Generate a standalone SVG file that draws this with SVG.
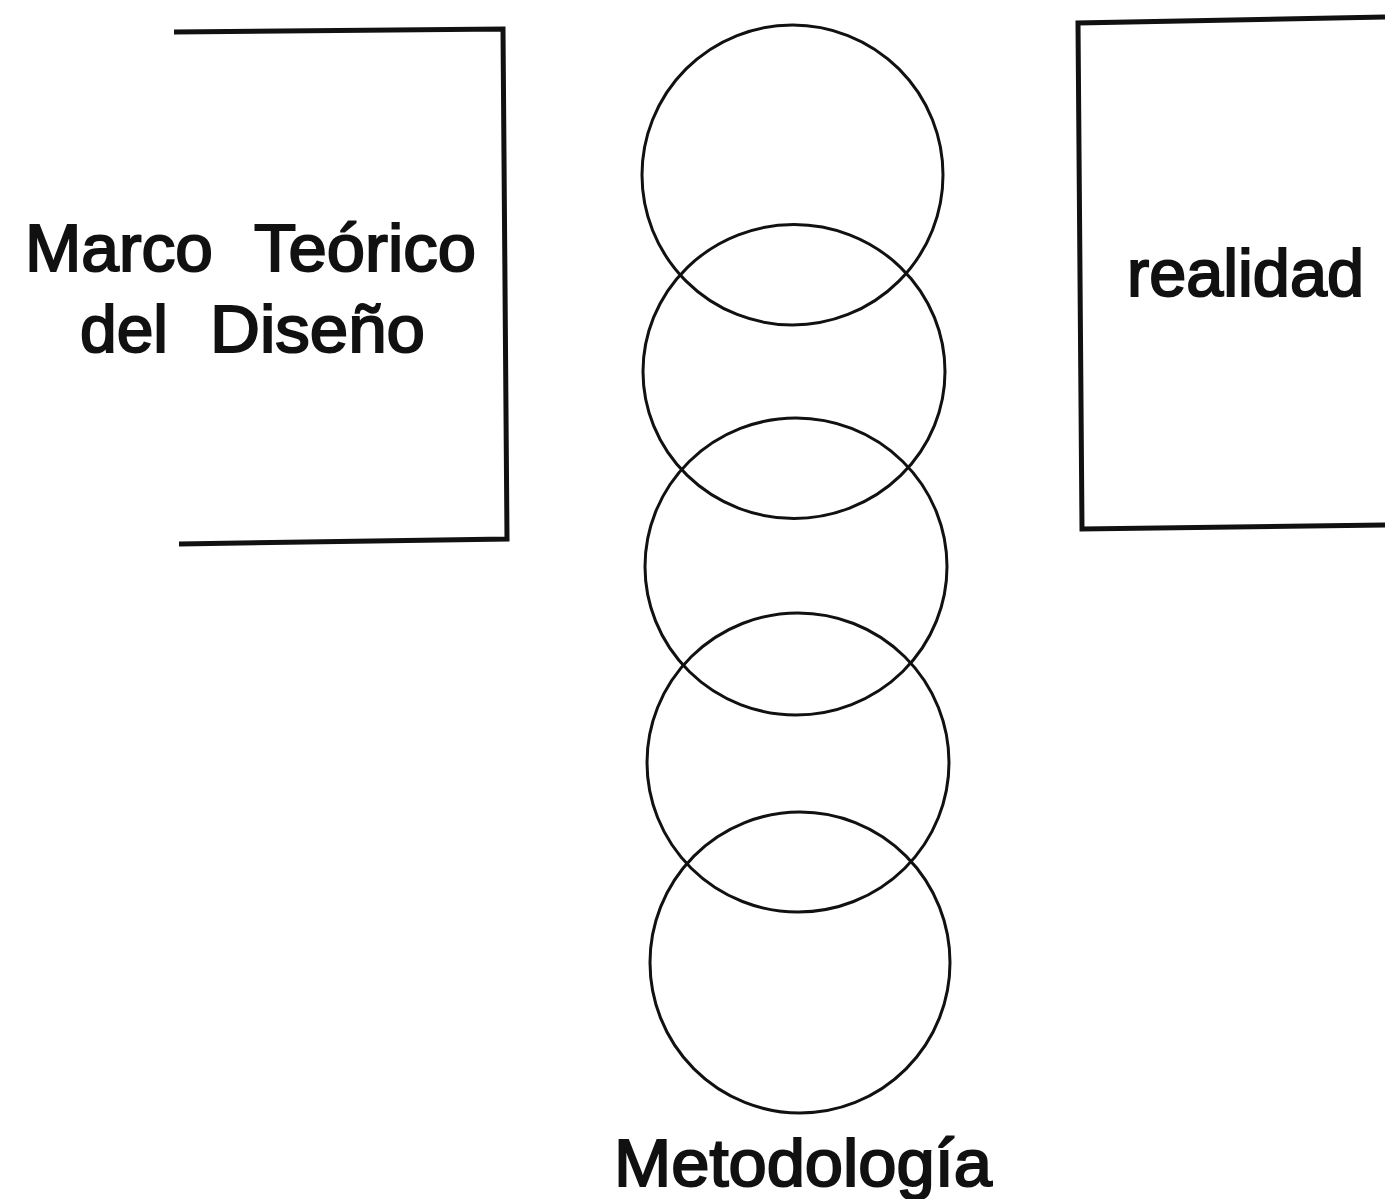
<svg xmlns="http://www.w3.org/2000/svg" width="1385" height="1199" viewBox="0 0 1385 1199">
<style>
.bx{fill:none;stroke:#111;stroke-width:5;stroke-linejoin:miter}
.ring{fill:none;stroke:#111;stroke-width:3}
.lb{font-family:"Liberation Sans",Arial,sans-serif;font-size:66px;fill:#111;stroke:#111;stroke-width:2}
</style>
<rect width="1385" height="1199" fill="#fff"/>
<g id="marco-teorico">
<polyline class="bx" points="174,32 503,29 507,539 179,544"/>
<text class="lb" x="25" y="271" textLength="188" lengthAdjust="spacingAndGlyphs">Marco</text>
<text class="lb" x="254" y="271" textLength="222" lengthAdjust="spacingAndGlyphs">Teórico</text>
<text class="lb" x="80" y="352" textLength="88" lengthAdjust="spacingAndGlyphs">del</text>
<text class="lb" x="210" y="352" textLength="215" lengthAdjust="spacingAndGlyphs">Diseño</text>
</g>
<g id="realidad">
<polyline class="bx" points="1385,17 1078,23 1082,529 1385,525"/>
<text class="lb" x="1127" y="296" textLength="237" lengthAdjust="spacingAndGlyphs">realidad</text>
</g>
<g id="metodologia">
<ellipse id="c1" class="ring" cx="792.5" cy="175" rx="150.5" ry="150"/>
<ellipse id="c2" class="ring" cx="794" cy="371.5" rx="151" ry="147"/>
<ellipse id="c3" class="ring" cx="796" cy="566.5" rx="151" ry="148.5"/>
<ellipse id="c4" class="ring" cx="798" cy="762.5" rx="151" ry="149.5"/>
<ellipse id="c5" class="ring" cx="800" cy="962.5" rx="150" ry="150.5"/>
<text class="lb" x="614" y="1186" textLength="378" lengthAdjust="spacingAndGlyphs">Metodología</text>
</g>
<g id="connectors"/>
</svg>
